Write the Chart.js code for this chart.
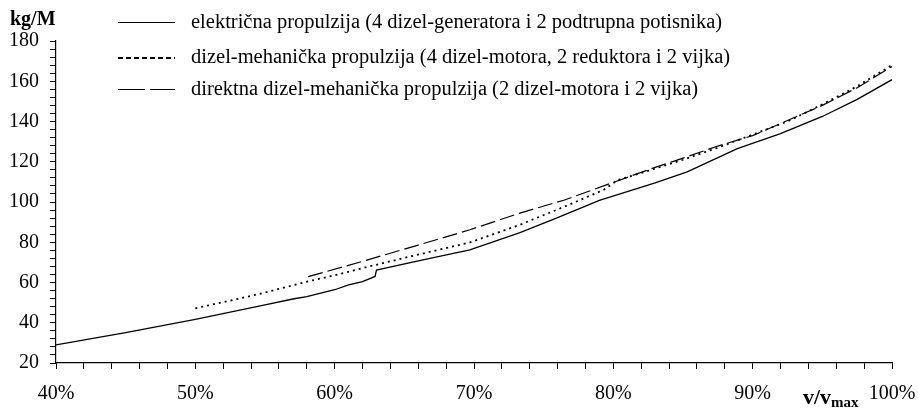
<!DOCTYPE html>
<html>
<head>
<meta charset="utf-8">
<script src="https://cdn.jsdelivr.net/npm/chart.js@4.4.1/dist/chart.umd.min.js"></script>
<style>
  html, body { margin: 0; padding: 0; background: #fff; }
</style>
</head>
<body>
<canvas id="chart" width="918" height="408"></canvas>
<script>
// električna propulzija
const elX = [40, 45, 50, 55, 57, 58, 60, 61, 62, 62.9, 63, 66, 69.7, 73.3, 76, 79, 83, 85.3, 88.9, 92, 95, 97.5, 100];
const elY = [29, 35.1, 41.7, 48.9, 51.8, 53, 56.4, 58.8, 60.4, 63, 66.2, 70.7, 76.2, 84.8, 92.2, 100.8, 109.5, 115, 126.5, 134, 142.5, 151, 160.8];

// dizel-mehanička propulzija
const dmX = [50, 52.7, 55, 58, 60, 62.5, 65.4, 69.7, 73.3, 76.6, 79.3, 80.3, 82.5, 85, 87.5, 90, 92.5, 95, 97.5, 100];
const dmY = [47.2, 51.3, 55, 60.4, 63.6, 68, 72.9, 79.9, 88.7, 98, 106, 110.8, 115.5, 121, 127, 133.5, 140, 148.5, 157.5, 168];

// direktna dizel-mehanička propulzija
const ddX = [58.1, 62, 66, 69.7, 73.3, 76.5, 79.3, 82.5, 85, 87.5, 90, 92.5, 95, 97.5, 100];
const ddY = [62.9, 70.5, 78.6, 86.2, 94.5, 101, 108, 116, 121.8, 127.8, 133, 140.5, 148, 156.8, 167.3];

const seriesNames = [
  "električna propulzija (4 dizel-generatora i 2 podtrupna potisnika)",
  "dizel-mehanička propulzija (4 dizel-motora, 2 reduktora i 2 vijka)",
  "direktna dizel-mehanička propulzija (2 dizel-motora i 2 vijka)",
];

const xMajor = 10; // labels every 10 %
const yMajor = 20;

const FONT = "'Liberation Serif', 'Times New Roman', serif";

function toPoints(xs, ys) {
  return xs.map((x, i) => ({ x: x, y: ys[i] }));
}

// legend is drawn by hand: lines left of the text, stacked at the top
const legendStyle = [
  { dash: [], width: 1, y: 22.5 },
  { dash: [5, 3], width: 2, y: 58 },
  { dash: [27, 5], width: 1, y: 89.5 },
];

const extras = {
  id: "extras",
  afterDraw(chart) {
    const ctx = chart.ctx;
    ctx.save();
    ctx.fillStyle = "#000";
    ctx.strokeStyle = "#000";

    chart.data.datasets.forEach((ds, i) => {
      const st = legendStyle[i];
      ctx.beginPath();
      ctx.setLineDash(st.dash);
      ctx.lineWidth = st.width;
      ctx.moveTo(118, st.y);
      ctx.lineTo(175, st.y);
      ctx.stroke();
      ctx.setLineDash([]);
      ctx.font = "20.5px " + FONT;
      ctx.textBaseline = "middle";
      ctx.textAlign = "left";
      ctx.fillText(ds.label, 191, Math.round(st.y));
    });

    // axis titles
    ctx.textBaseline = "alphabetic";
    ctx.font = "bold 20px " + FONT;
    ctx.fillText("kg/M", 10, 25);

    ctx.font = "bold 22px " + FONT;
    ctx.fillText("v/v", 803, 404);
    const w = ctx.measureText("v/v").width;
    ctx.font = "bold 15px " + FONT;
    ctx.fillText("max", 803 + w, 407);
    ctx.restore();
  },
};

document.addEventListener("DOMContentLoaded", () => {
  const ctx = document.getElementById("chart").getContext("2d");
  new Chart(ctx, {
    type: "line",
    data: {
      datasets: [
        {
          label: seriesNames[0],
          data: toPoints(elX, elY),
          borderColor: "#000",
          borderWidth: 1.3,
        },
        {
          label: seriesNames[1],
          data: toPoints(dmX, dmY),
          borderColor: "#000",
          borderWidth: 1.8,
          borderDash: [2, 4],
        },
        {
          label: seriesNames[2],
          data: toPoints(ddX, ddY),
          borderColor: "#000",
          borderWidth: 1.2,
          borderDash: [15, 5],
        },
      ],
    },
    options: {
      responsive: false,
      animation: false,
      elements: { point: { radius: 0 }, line: { tension: 0 } },
      layout: { padding: { top: 41, right: 26, left: 0, bottom: 0 } },
      plugins: { legend: { display: false }, tooltip: { enabled: false } },
      scales: {
        x: {
          type: "linear",
          min: 40,
          max: 100,
          afterFit: (s) => {
            s.height = 45;
            s.paddingLeft = 0;
            s.paddingRight = 0;
          },
          ticks: {
            stepSize: 2,
            autoSkip: false,
            maxRotation: 0,
            padding: 13,
            color: "#000",
            font: { family: FONT, size: 20 },
            callback: (v) => (Math.round(v) % xMajor === 0 ? Math.round(v) + "%" : ""),
          },
          grid: { drawOnChartArea: false, drawTicks: true, tickLength: 6, color: "#000", lineWidth: 1 },
          border: { color: "#000", width: 1.2 },
        },
        y: {
          min: 20,
          max: 180,
          afterFit: (s) => { s.width = 56; },
          ticks: {
            stepSize: 4,
            autoSkip: false,
            padding: 11,
            color: "#000",
            font: { family: FONT, size: 20 },
            callback: (v) => (Math.round(v) % yMajor === 0 ? Math.round(v) : ""),
          },
          grid: { drawOnChartArea: false, drawTicks: true, tickLength: 6, color: "#000", lineWidth: 1 },
          border: { color: "#000", width: 1.2 },
        },
      },
    },
    plugins: [extras],
  });
});
</script>
</body>
</html>
